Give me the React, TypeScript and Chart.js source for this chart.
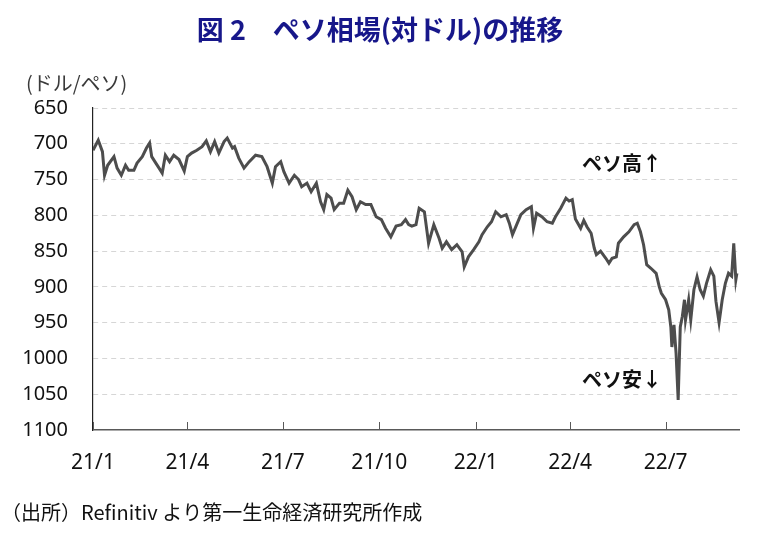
import React, { useEffect, useRef } from "react";
import { Chart, registerables } from "chart.js";

Chart.register(...registerables);

// Day offsets from 2021-01-01 and peso per US dollar
const days = [
  0, 5, 9, 11, 14, 20, 23, 27, 31, 34,
  39, 42, 47, 51, 54, 56, 59, 63, 66, 69,
  73, 77, 82, 87, 90, 94, 99, 104, 108, 112,
  116, 120, 125, 128, 133, 135, 139, 144, 149, 155,
  161, 166, 171, 174, 179, 182, 187, 192, 196, 199,
  204, 208, 213, 217, 220, 223, 227, 230, 235, 239,
  243, 247, 251, 255, 260, 265, 270, 275, 279, 284,
  289, 294, 298, 301, 304, 308, 311, 316, 320, 325,
  330, 333, 337, 342, 347, 352, 354, 358, 363, 368,
  371, 376, 380, 384, 389, 394, 397, 400, 404, 408,
  413, 418, 420, 423, 428, 433, 438, 441, 446, 451,
  454, 457, 460, 465, 468, 471, 475, 478, 480, 484,
  489, 492, 495, 499, 501, 506, 511, 516, 519, 522,
  525, 528, 532, 537, 540, 542, 546, 549, 551, 552,
  554, 556, 557, 558, 560, 562, 564, 565, 568, 570,
  573, 576, 579, 582, 585, 589, 592, 594, 597, 600,
  603, 606, 609, 611, 613, 614,
];

const rates = [
  709, 695, 711, 744, 730, 718, 734, 744, 730, 737,
  737, 727, 718, 706, 699, 718, 725, 734, 741, 716,
  725, 716, 722, 738, 718, 713, 709, 704, 696, 711,
  697, 713, 697, 692, 706, 704, 720, 734, 725, 716,
  718, 732, 755, 732, 725, 739, 755, 744, 750, 760,
  755, 767, 755, 781, 792, 771, 776, 792, 783, 783,
  765, 774, 792, 781, 785, 785, 802, 806, 818, 830,
  815, 813, 806, 813, 815, 813, 790, 795, 839, 813,
  832, 846, 837, 848, 841, 851, 872, 858, 848, 837,
  827, 816, 809, 795, 802, 799, 811, 827, 813, 799,
  792, 788, 818, 797, 802, 809, 811, 802, 790, 776,
  780, 778, 805, 818, 807, 816, 825, 846, 855, 850,
  860, 867, 860, 858, 839, 830, 823, 813, 811, 823,
  841, 869, 874, 881, 900, 909, 918, 932, 956, 984,
  953, 993, 1026, 1058, 956, 941, 918, 946, 918, 946,
  904, 886, 904, 913, 895, 876, 885, 920, 950, 918,
  895, 881, 885, 839, 890, 881,
];

const tickDays = [0, 90, 181, 273, 365, 455, 546];
const tickLabels = ["21/1", "21/4", "21/7", "21/10", "22/1", "22/4", "22/7"];
const yTicks = [650, 700, 750, 800, 850, 900, 950, 1000, 1050, 1100];

const titleText = "図 2　ペソ相場(対ドル)の推移";
const unitText = "(ドル/ペソ)";
const upText = "ペソ高↑";
const downText = "ペソ安↓";
const sourceText = "（出所）Refinitiv より第一生命経済研究所作成";

const JP = '"Noto Sans CJK JP", "Noto Sans", sans-serif';
const NUM = '"Noto Sans", "DejaVu Sans", sans-serif';

const overlayPlugin = {
  id: "overlay",
  afterDraw(chart: any) {
    const { ctx, chartArea, scales } = chart;
    const xs = scales.x;
    ctx.save();
    // inward tick marks on the x axis
    ctx.strokeStyle = "#595959";
    ctx.lineWidth = 1;
    tickDays.forEach((d) => {
      const px = Math.round(xs.getPixelForValue(d)) + 0.5;
      ctx.beginPath();
      ctx.moveTo(px, chartArea.bottom);
      ctx.lineTo(px, chartArea.bottom - 8);
      ctx.stroke();
    });
    // title
    ctx.fillStyle = "#17178a";
    ctx.font = `bold 27px ${JP}`;
    ctx.textAlign = "center";
    ctx.textBaseline = "middle";
    ctx.fillText(titleText, 380, 30);
    // unit
    ctx.fillStyle = "#3a3a3a";
    ctx.font = `20px ${JP}`;
    ctx.textAlign = "left";
    ctx.fillText(unitText, 26, 83);
    // annotations
    ctx.fillStyle = "#111";
    ctx.font = `bold 20px ${JP}`;
    ctx.fillText(upText, 582, 163);
    ctx.fillText(downText, 582, 379);
    // source
    ctx.fillStyle = "#111";
    ctx.font = `20px ${JP}`;
    ctx.fillText(sourceText, 1, 512);
    ctx.restore();
  },
};

export default function App() {
  const canvasRef = useRef<HTMLCanvasElement | null>(null);

  useEffect(() => {
    if (!canvasRef.current) return;
    const chart = new Chart(canvasRef.current, {
      type: "line",
      data: {
        datasets: [
          {
            data: days.map((d, i) => ({ x: d, y: rates[i] })),
            borderColor: "#4d4d4d",
            borderWidth: 3,
            pointRadius: 0,
            tension: 0,
            fill: false,
          },
        ],
      },
      options: {
        responsive: false,
        animation: false,
        layout: { padding: { left: 0, right: 22, top: 108, bottom: 0 } },
        plugins: {
          legend: { display: false },
          tooltip: { enabled: false },
          title: { display: false },
        },
        scales: {
          x: {
            type: "linear",
            min: 0,
            max: 616,
            afterBuildTicks: (scale: any) => {
              scale.ticks = tickDays.map((v) => ({ value: v }));
            },
            afterFit: (scale: any) => {
              scale.height = 110;
            },
            ticks: {
              autoSkip: false,
              maxRotation: 0,
              padding: 20,
              color: "#111",
              font: { family: NUM, size: 21 },
              callback: (v: any) => {
                const i = tickDays.indexOf(Number(v));
                return i >= 0 ? tickLabels[i] : "";
              },
            },
            grid: { display: false, drawTicks: false },
            border: { display: true, color: "#595959", width: 1.5 },
          },
          y: {
            type: "linear",
            reverse: true,
            min: 650,
            max: 1100,
            afterBuildTicks: (scale: any) => {
              scale.ticks = yTicks.map((v) => ({ value: v }));
            },
            afterFit: (scale: any) => {
              scale.width = 93;
            },
            ticks: {
              padding: 25,
              color: "#111",
              font: { family: NUM, size: 20 },
              callback: (v: any) => String(v),
            },
            grid: {
              drawTicks: false,
              color: (c: any) => (c.tick && c.tick.value === 1100 ? "rgba(0,0,0,0)" : "#d6d6d6"),
              lineWidth: 1,
            },
            border: { display: true, color: "#222", width: 1.2, dash: [5, 4] },
          },
        },
      },
      plugins: [overlayPlugin],
    });
    return () => chart.destroy();
  }, []);

  return (
    <div style={{ position: "absolute", left: 0, top: 0, width: 761, height: 540, background: "#fff" }}>
      <canvas ref={canvasRef} width={761} height={540} style={{ display: "block", width: 761, height: 540 }} />
    </div>
  );
}
